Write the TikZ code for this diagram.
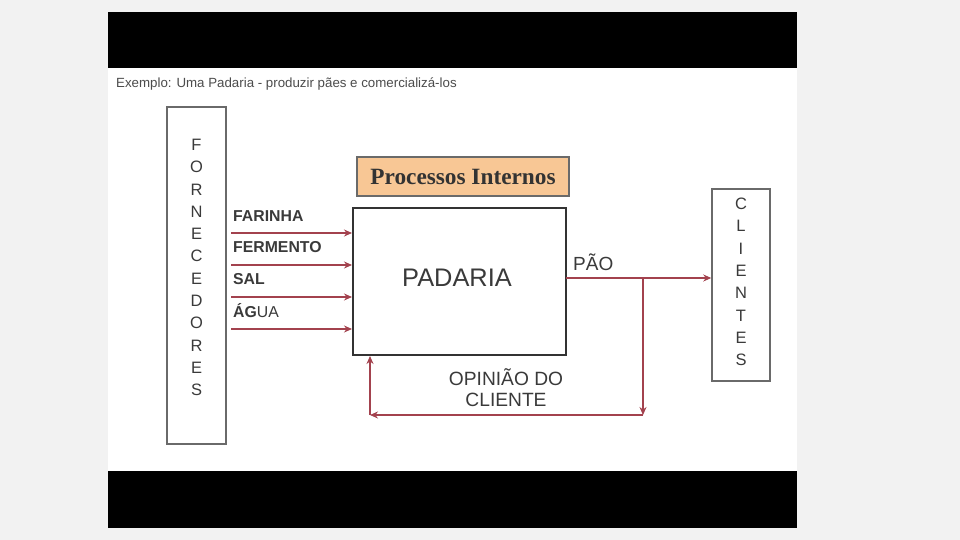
\documentclass[tikz,border=0pt]{standalone}
\usepackage{fontspec}
\setmainfont{Liberation Sans}
\newfontfamily\serifnm{Liberation Serif}
\usetikzlibrary{arrows.meta}
\definecolor{arrred}{HTML}{A3424E}
\definecolor{boxgray}{HTML}{6A6A6A}
\definecolor{procfill}{HTML}{F8C795}
\definecolor{txtgray}{HTML}{3A3A3A}
\tikzset{
  arr/.style={draw=arrred, line width=1.4pt, -{Stealth[length=8pt,width=7pt]}},
  sidebox/.style={draw=boxgray, line width=1.5pt, fill=white, inner sep=0pt},
  lbl/.style={inner sep=0pt, anchor=west, text=txtgray},
  vlet/.style={inner sep=0pt, align=center, text=txtgray, font=\fontsize{16.5}{22.3}\selectfont},
}
\begin{document}
\begin{tikzpicture}[x=1pt,y=-1pt]
\useasboundingbox (0,0) rectangle (960,540);
\fill[black!5] (0,0) rectangle (960,540);
\fill[white] (108,68) rectangle (797,471);
\fill[black] (108,12) rectangle (797,68);
\fill[black] (108,471) rectangle (797,528);
% title
\node[lbl, font=\fontsize{13.3}{15}\selectfont, text=black!70] (title) at (116,84) {Exemplo: Uma Padaria - produzir pães e comercializá-los};
% fornecedores
\node[sidebox, minimum width=59, minimum height=337] (forn) at (196.5,275.5) {};
\node[vlet] (fornt) at (196.5,267.5) {F\\O\\R\\N\\E\\C\\E\\D\\O\\R\\E\\S};
% clientes
\node[sidebox, minimum width=58, minimum height=192] (cli) at (741,285) {};
\node[vlet] (clit) at (741,282) {C\\L\\I\\E\\N\\T\\E\\S};
% processos internos
\node[draw=boxgray, line width=1.2pt, fill=procfill, minimum width=212, minimum height=39, inner sep=0pt,
      font=\serifnm\bfseries\fontsize{23.3}{26}\selectfont, text=black!80] (proc) at (463,176.5) {Processos Internos};
% padaria
\node[draw=black!80, line width=2pt, fill=white, minimum width=213, minimum height=147, inner sep=0pt] (pad) at (459.5,281.5) {};
\node[inner sep=0pt, font=\fontsize{25.4}{27}\selectfont, text=txtgray] (padt) at (457,278) {PADARIA};
% inputs
\foreach \nm/\yy in {i1/233,i2/265,i3/297,i4/329}{
  \coordinate (\nm) at (231,\yy);
  \draw[arr] (\nm) -- (\nm -| pad.west);
}
\node[lbl, font=\bfseries\fontsize{15.8}{17}\selectfont] (l1) at (233,216) {FARINHA};
\node[lbl, font=\bfseries\fontsize{15.8}{17}\selectfont] (l2) at (233,247) {FERMENTO};
\node[lbl, font=\bfseries\fontsize{15.8}{17}\selectfont] (l3) at (233,279) {SAL};
\node[lbl, font=\fontsize{15.8}{17}\selectfont] (l4) at (233,311) {\textbf{ÁG}UA};
% output
\coordinate (po) at (566,278);
\coordinate (split) at (643,278);
\coordinate (c1) at (643,415);
\coordinate (c2) at (370,415);
\draw[arr] (po) -- (po -| cli.west);
\node[lbl, font=\fontsize{19}{21}\selectfont] (pao) at (573,262) {PÃO};
% feedback
\draw[arr] (split) -- (c1);
\draw[arr] (c1) -- (c2);
\draw[arr] (c2) -- (c2 |- pad.south);
\node[inner sep=0pt, align=center, font=\fontsize{19.2}{21}\selectfont, text=txtgray] (op) at (506,387.5) {OPINIÃO DO\\CLIENTE};
\end{tikzpicture}
\end{document}
